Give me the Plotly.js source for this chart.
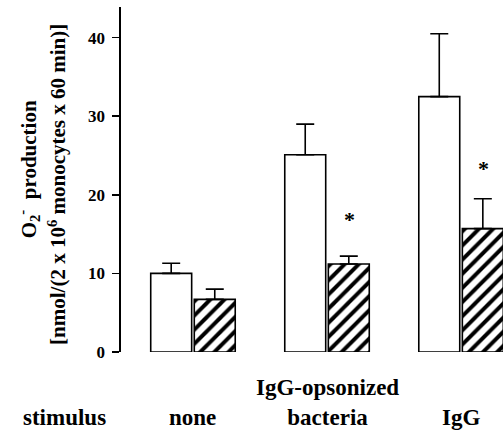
<!DOCTYPE html>
<html>
<head>
<meta charset="utf-8">
<script src="https://cdn.plot.ly/plotly-3.0.1.min.js"></script>
<style>html,body{margin:0;padding:0;background:#fff;}#chart{width:503px;height:432px;}</style>
</head>
<body>
<div id="chart"></div>
<script>
const categories = ["none", "IgG-opsonized<br>bacteria", "IgG"];
const controlValues = [10.0, 25.1, 32.5];
const controlErrors = [1.3, 3.9, 8.0];
const treatedValues = [6.7, 11.2, 15.7];
const treatedErrors = [1.3, 1.0, 3.8];
const starY = [null, 16.8, 23.3];
const yTicks = [0, 10, 20, 30, 40];
const yTickLabels = ["0", "10", "20", "30", "40"];
const xAxisTitle = "stimulus";
const yTitleLine1 = "O<sub>2</sub><sup>-</sup>  production";
const yTitleLine2 = "[nmol/(2 x 10<sup>6</sup> monocytes x 60 min)]";

const FONT = "Liberation Serif, Times New Roman, serif";
const catIdx = categories.map((c, i) => i);

const zeros = categories.map(() => 0);
const traces = [
  {
    type: "bar", x: catIdx, y: controlValues,
    marker: {color: "#ffffff", line: {color: "#000", width: 1.6}},
    error_y: {type: "data", array: controlErrors, arrayminus: zeros, symmetric: false,
              color: "#000", thickness: 1.6, width: 9},
    hoverinfo: "skip"
  },
  {
    type: "bar", x: catIdx, y: treatedValues,
    marker: {color: "#ffffff", line: {color: "#000", width: 1.6},
             pattern: {shape: "/", fgcolor: "#000", bgcolor: "#fff", size: 10, solidity: 0.4}},
    error_y: {type: "data", array: treatedErrors, arrayminus: zeros, symmetric: false,
              color: "#000", thickness: 1.6, width: 9},
    hoverinfo: "skip"
  }
];

const LBL_Y = -0.231;
const annotations = [];
categories.forEach((c, i) => {
  annotations.push({
    x: i, xref: "x", y: LBL_Y, yref: "paper", yanchor: "bottom", xanchor: "center",
    text: "<b>" + c + "</b>", showarrow: false,
    font: {family: FONT, size: 23, color: "#000"}
  });
  if (starY[i] !== null) {
    annotations.push({
      x: i, xref: "x", xshift: 22, y: starY[i], yref: "y",
      text: "<b>*</b>", showarrow: false,
      font: {family: FONT, size: 22, color: "#000"}
    });
  }
});
annotations.push({
  x: -0.1466, xref: "paper", y: LBL_Y, yref: "paper", yanchor: "bottom", xanchor: "center",
  text: "<b>" + xAxisTitle + "</b>", showarrow: false,
  font: {family: FONT, size: 23, color: "#000"}
});
annotations.push({
  x: -0.243, xref: "paper", y: 0.53, yref: "paper", xanchor: "center", yanchor: "middle",
  text: "<b>" + yTitleLine1 + "</b>", textangle: -90, showarrow: false,
  font: {family: FONT, size: 21, color: "#000"}
});
annotations.push({
  x: -0.167, xref: "paper", y: 0.485, yref: "paper", xanchor: "center", yanchor: "middle",
  text: "<b>" + yTitleLine2 + "</b>", textangle: -90, showarrow: false,
  font: {family: FONT, size: 21, color: "#000"}
});

const layout = {
  width: 503, height: 432,
  margin: {l: 121, r: 0, t: 7, b: 80},
  paper_bgcolor: "#fff", plot_bgcolor: "#fff",
  showlegend: false,
  barmode: "group", bargap: 0.35, bargroupgap: 0.06,
  xaxis: {range: [-0.537, 2.313], showticklabels: false, showline: false, showgrid: false,
          zeroline: false, ticks: ""},
  yaxis: {range: [0, 43.9], tickvals: yTicks, ticktext: yTickLabels, showline: true,
          linecolor: "#000", linewidth: 1.6, ticks: "outside", ticklen: 7, tickwidth: 1.6,
          tickcolor: "#000", showgrid: false, zeroline: false, ticklabelstandoff: 4,
          tickfont: {family: FONT, size: 17, color: "#000", weight: "bold"}},
  annotations: annotations
};

Plotly.newPlot("chart", traces, layout, {displayModeBar: false, staticPlot: true});
</script>
</body>
</html>
